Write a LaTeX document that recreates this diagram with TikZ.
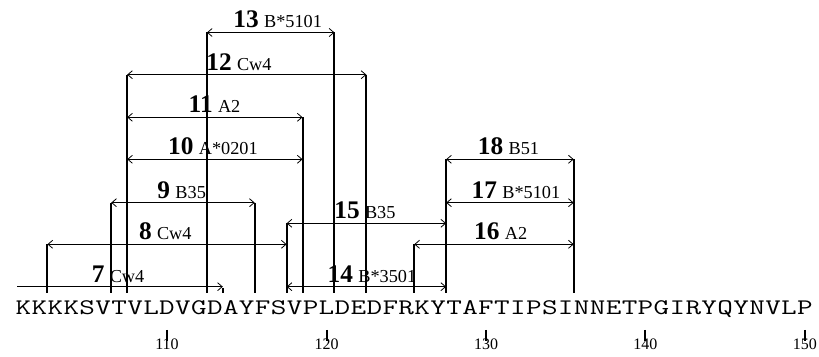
\documentclass[tikz,border=0pt]{standalone}
\usepackage{fontspec}
\setmainfont{Liberation Serif}
\usetikzlibrary{arrows.meta}

\newcommand{\epi}[2]{{\fontsize{19}{19}\selectfont\bfseries #1}\hspace{4pt}{\fontsize{13.7}{14}\selectfont #2}}

\begin{document}
\begin{tikzpicture}[
  x=11.9625pt, y=-0.75pt,
  >={Straight Barb[length=3.5pt,width=6pt]},
  pep/.style={line width=0.6pt, <->},
  bar/.style={line width=1.5pt},
  lab/.style={anchor=base, inner sep=0pt},
  res/.style={anchor=base, inner sep=0pt, font=\ttfamily\fontsize{16.7}{17}\selectfont},
  num/.style={anchor=base, inner sep=0pt, font=\fontsize{12}{12}\selectfont}
]
\useasboundingbox (99.53,0) rectangle (150.88,357);
\coordinate (floor) at (100,293);

% peptide ends
\coordinate (a7)  at (100.6,286.7); \coordinate (b7)  at (113.5,286.7);
\coordinate (a8)  at (102.5,244.3); \coordinate (b8)  at (117.5,244.3);
\coordinate (a9)  at (106.5,202.7); \coordinate (b9)  at (115.5,202.7);
\coordinate (a10) at (107.5,159.3); \coordinate (b10) at (118.5,159.3);
\coordinate (a11) at (107.5,117.3); \coordinate (b11) at (118.5,117.3);
\coordinate (a12) at (107.5,74.7);  \coordinate (b12) at (122.5,74.7);
\coordinate (a13) at (112.5,32.5);  \coordinate (b13) at (120.5,32.5);
\coordinate (a14) at (117.5,286.7); \coordinate (b14) at (127.5,286.7);
\coordinate (a15) at (117.5,223.3); \coordinate (b15) at (127.5,223.3);
\coordinate (a16) at (125.5,244.3); \coordinate (b16) at (135.5,244.3);
\coordinate (a17) at (127.5,202.7); \coordinate (b17) at (135.5,202.7);
\coordinate (a18) at (127.5,159.3); \coordinate (b18) at (135.5,159.3);

% boundary bars
\draw[bar] (a8)  -- (a8 |- floor);
\draw[bar] (a9)  -- (a9 |- floor);
\draw[bar] (a12) -- (a12 |- floor);
\draw[bar] (a13) -- (a13 |- floor);
\draw[bar] ([yshift=-1pt]b7) -- (b7 |- floor);
\draw[bar] (b9)  -- (b9 |- floor);
\draw[bar] (a15) -- (a15 |- floor);
\draw[bar] (b11) -- (b11 |- floor);
\draw[bar] (b13) -- (b13 |- floor);
\draw[bar] (b12) -- (b12 |- floor);
\draw[bar] (a16) -- (a16 |- floor);
\draw[bar] (a18) -- (a18 |- floor);
\draw[bar] (b18) -- (b18 |- floor);

% peptides
\draw[pep, ->] (a7) -- (b7);
\draw[pep] (a8) -- (b8);   \draw[pep] (a9) -- (b9);
\draw[pep] (a10) -- (b10); \draw[pep] (a11) -- (b11);
\draw[pep] (a12) -- (b12); \draw[pep] (a13) -- (b13);
\draw[pep] (a14) -- (b14); \draw[pep] (a15) -- (b15);
\draw[pep] (a16) -- (b16); \draw[pep] (a17) -- (b17);
\draw[pep] (a18) -- (b18);

\node[lab] (t7)  at (106.93,282.2) {\epi{7}{Cw4}};
\node[lab] (t8)  at (109.89,239.8) {\epi{8}{Cw4}};
\node[lab] (t9)  at (110.92,198.2) {\epi{9}{B35}};
\node[lab] (t10) at (112.88,154.8) {\epi{10}{A*0201}};
\node[lab] (t11) at (112.98,112.8) {\epi{11}{A2}};
\node[lab] (t12) at (114.51,70.2)  {\epi{12}{Cw4}};
\node[lab] (t13) at (116.94,28.0)  {\epi{13}{B*5101}};
\node[lab] (t14) at (122.85,282.2) {\epi{14}{B*3501}};
\node[lab] (t15) at (122.41,218.8) {\epi{15}{B35}};
\node[lab] (t16) at (130.92,239.8) {\epi{16}{A2}};
\node[lab] (t17) at (131.88,198.2) {\epi{17}{B*5101}};
\node[lab] (t18) at (131.41,154.8) {\epi{18}{B51}};

% sequence 101--150
\foreach \c [count=\i from 101] in {K,K,K,K,S,V,T,V,L,D,V,G,D,A,Y,F,S,V,P,L,D,E,D,F,R,K,Y,T,A,F,T,I,P,S,I,N,N,E,T,P,G,I,R,Y,Q,Y,N,V,L,P}
  \node[res] (r\i) at (\i,314.5) {\scalebox{1.36}[1]{\c}};

\foreach \t in {110,120,...,150} {
  \draw[bar] (\t,330) -- (\t,341);
  \node[num] (n\t) at (\t,349.5) {\t};
}
\end{tikzpicture}
\end{document}
